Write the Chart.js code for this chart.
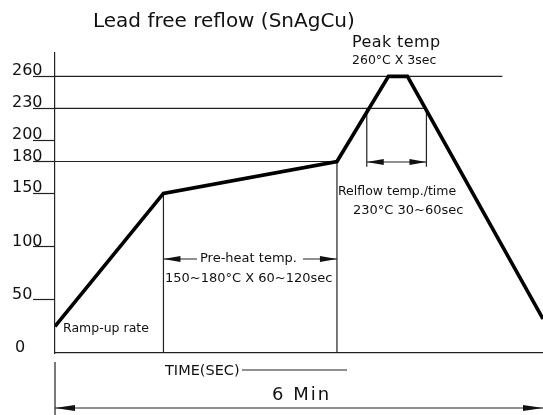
<!DOCTYPE html>
<html>
<head>
<meta charset="utf-8">
<script src="https://cdn.jsdelivr.net/npm/chart.js@4.4.1/dist/chart.umd.min.js"></script>
<style>
    html, body { margin: 0; padding: 0; background: #fff; }
    #wrap { width: 543px; height: 415px; }
</style>
</head>
<body>
<div id="wrap"><canvas id="reflowChart"></canvas></div>
<script>
// Lead free reflow profile (time in s, temp in °C)
const profileTime = [0, 80, 208, 246, 260, 360];
const profileTemp = [25, 150, 180, 260, 260, 32];

// y axis tick values
const tempTicks = [0, 50, 100, 150, 180, 200, 230, 260];

// horizontal guide lines and the time where each one stops
const guideTemps = [260, 230, 180];
const guideEnds = [330, 274, 208];

// pre-heat and reflow windows (s) and their temps
const preheatWindow = [80, 208];
const preheatTemps = [150, 180];
const reflowWindow = [230, 274];
const reflowTemp = 230;
const totalTime = 360; // 6 min

const FONT = '"DejaVu Sans", sans-serif';
const INK = "#111";

function seg(x1, y1, x2, y2) {
    return {
        data: [{x: x1, y: y1}, {x: x2, y: y2}],
        borderColor: "#222",
        borderWidth: 1.2,
        pointRadius: 0,
    };
}

const datasets = [{
    data: profileTime.map((t, i) => ({x: t, y: profileTemp[i]})),
    borderColor: "#000",
    borderWidth: 3.6,
    pointRadius: 0,
    tension: 0,
}];
guideTemps.forEach((temp, i) => datasets.push(seg(0, temp, guideEnds[i], temp)));
preheatWindow.forEach((t, i) => datasets.push(seg(t, 0, t, preheatTemps[i])));
// reflow extension lines drop a little under the dimension line
reflowWindow.forEach(t => datasets.push(seg(t, reflowTemp, t, 175)));

function arrowHead(ctx, tipX, y, dir, len, half) {
    ctx.beginPath();
    ctx.moveTo(tipX, y);
    ctx.lineTo(tipX - dir * len, y - half);
    ctx.lineTo(tipX - dir * len, y + half);
    ctx.closePath();
    ctx.fill();
}

function line(ctx, x1, y1, x2, y2) {
    ctx.beginPath();
    ctx.moveTo(x1, y1);
    ctx.lineTo(x2, y2);
    ctx.stroke();
}

function text(ctx, str, x, y, size, spacing) {
    ctx.font = size + "px " + FONT;
    ctx.letterSpacing = (spacing || 0) + "px";
    ctx.fillText(str, x, y);
}

const drawingPlugin = {
    id: "drawing",
    afterDraw(chart) {
        const ctx = chart.ctx;
        const xs = chart.scales.x;
        const ys = chart.scales.y;
        ctx.save();
        ctx.fillStyle = INK;
        ctx.strokeStyle = "#222";
        ctx.lineWidth = 1.2;
        ctx.textBaseline = "alphabetic";
        ctx.textAlign = "left";

        // tick labels sit on top of their tick marks
        tempTicks.forEach(v => {
            const y = ys.getPixelForValue(v);
            if (v === 0) {
                ctx.textAlign = "center";
                text(ctx, String(v), 20, y - 1, 16);
                ctx.textAlign = "left";
            } else {
                text(ctx, String(v), 12, y - 1, 16);
            }
        });

        // title and notes
        text(ctx, "Lead free reflow (SnAgCu)", 93, 27, 20);
        text(ctx, "Peak temp", 352, 47, 16, 0.4);
        text(ctx, "260°C X 3sec", 352, 64, 12.5);
        text(ctx, "Relflow temp./time", 338, 195, 12.5);
        text(ctx, "230°C 30~60sec", 353, 214, 13);
        text(ctx, "Pre-heat temp.", 200, 262, 13);
        text(ctx, "150~180°C X 60~120sec", 165, 282, 13);
        text(ctx, "Ramp-up rate", 63, 332, 12.5);
        text(ctx, "TIME(SEC)", 165, 375, 14.5);
        text(ctx, "6 Min", 272, 400, 18, 2);

        // pre-heat dimension
        const p0 = xs.getPixelForValue(preheatWindow[0]);
        const p1 = xs.getPixelForValue(preheatWindow[1]);
        line(ctx, p0, 259, 197, 259);
        line(ctx, 303, 259, p1, 259);
        arrowHead(ctx, p0, 259, -1, 17, 3);
        arrowHead(ctx, p1, 259, 1, 17, 3);

        // reflow dimension
        const r0 = xs.getPixelForValue(reflowWindow[0]);
        const r1 = xs.getPixelForValue(reflowWindow[1]);
        const ry = 162;
        line(ctx, r0, ry, r1, ry);
        arrowHead(ctx, r0, ry, -1, 17, 3);
        arrowHead(ctx, r1, ry, 1, 17, 3);

        // time line and 6 min dimension under the axis
        const t0 = xs.getPixelForValue(0);
        const t1 = xs.getPixelForValue(totalTime);
        line(ctx, 242, 370, 347, 370);
        line(ctx, t0, 362, t0, 415);
        line(ctx, t0, 408, t1, 408);
        arrowHead(ctx, t0, 408, -1, 20, 3);
        arrowHead(ctx, t1, 408, 1, 20, 3);
        ctx.restore();
    }
};

new Chart(document.getElementById("reflowChart"), {
    type: "line",
    data: {datasets: datasets},
    options: {
        responsive: true,
        maintainAspectRatio: false,
        animation: false,
        layout: {padding: {left: 33, right: 0, top: 53, bottom: 62}},
        plugins: {legend: {display: false}, tooltip: {enabled: false}},
        scales: {
            x: {
                type: "linear",
                min: 0,
                max: totalTime,
                grid: {display: false, drawTicks: false},
                ticks: {display: false},
                border: {display: true, color: "#222", width: 1.2},
            },
            y: {
                type: "linear",
                min: 0,
                max: 282,
                afterBuildTicks: scale => {
                    scale.ticks = tempTicks.map(v => ({value: v}));
                },
                grid: {
                    drawOnChartArea: false,
                    drawTicks: true,
                    tickLength: 22,
                    tickWidth: 1.2,
                    tickColor: c => (c.tick && c.tick.value === 0 ? "rgba(0,0,0,0)" : "#222"),
                },
                ticks: {display: false},
                border: {display: true, color: "#222", width: 1.2},
            },
        },
    },
    plugins: [drawingPlugin],
});
</script>
</body>
</html>
